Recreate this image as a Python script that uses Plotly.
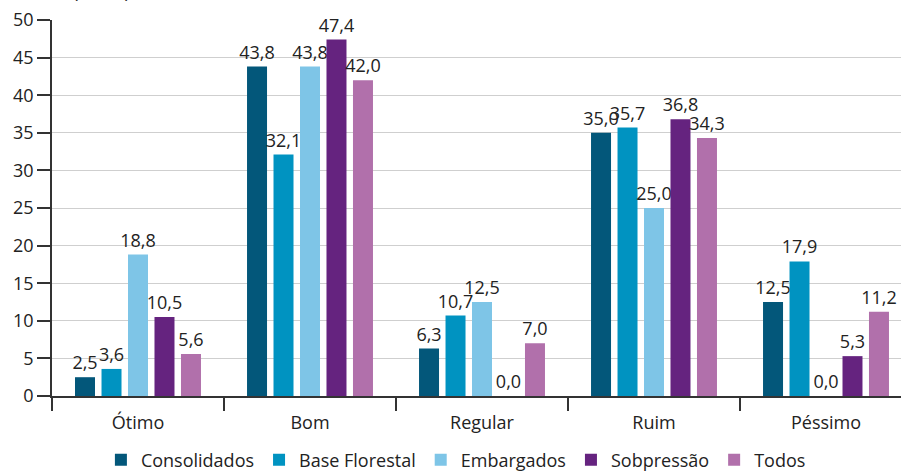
import plotly.graph_objects as go

categories = ["Ótimo", "Bom", "Regular", "Ruim", "Péssimo"]
consolidados = [2.5, 43.8, 6.3, 35.0, 12.5]
base_florestal = [3.6, 32.1, 10.7, 35.7, 17.9]
embargados = [18.8, 43.8, 12.5, 25.0, 0.0]
sobpressao = [10.5, 47.4, 0.0, 36.8, 5.3]
todos = [5.6, 42.0, 7.0, 34.3, 11.2]

series = [
    ("Consolidados", consolidados, "#03577a"),
    ("Base Florestal", base_florestal, "#0093c1"),
    ("Embargados", embargados, "#7ec5e7"),
    ("Sobpressão", sobpressao, "#65237f"),
    ("Todos", todos, "#b170ab"),
]

FONT = "Open Sans"
TXT = "#222222"


def fmt(v):
    return f"{v:.1f}".replace(".", ",")


fig = go.Figure()
for name, vals, color in series:
    fig.add_trace(go.Bar(
        name=name,
        x=categories,
        y=vals,
        marker=dict(color=color, line=dict(width=0)),
        text=[fmt(v) for v in vals],
        textposition="outside",
        textfont=dict(family=FONT, size=18, color=TXT),
        constraintext="none",
        cliponaxis=False,
    ))

fig.update_layout(
    width=901,
    height=471,
    margin=dict(l=52, r=0, t=20, b=75, autoexpand=False),
    paper_bgcolor="white",
    plot_bgcolor="white",
    barmode="group",
    bargap=0.23,
    bargroupgap=0.245,
    font=dict(family=FONT, size=18, color=TXT),
    showlegend=True,
    legend=dict(
        orientation="h",
        xref="container", yref="container",
        x=0.506, xanchor="center",
        y=0.023, yanchor="middle",
        font=dict(family=FONT, size=18, color=TXT),
        itemwidth=30,
        tracegroupgap=0,
    ),
    xaxis=dict(
        range=[-0.5, 4.436],
        showgrid=False,
        showline=True,
        linecolor="#333333",
        linewidth=1.5,
        ticks="outside",
        tickson="boundaries",
        ticklen=13,
        tickcolor="#333333",
        tickwidth=1.5,
        ticklabelstandoff=10,
        tickfont=dict(family=FONT, size=18, color=TXT),
    ),
    yaxis=dict(
        range=[0, 50],
        dtick=5,
        showgrid=True,
        gridcolor="#cfcfcf",
        gridwidth=1,
        showline=True,
        linecolor="#333333",
        linewidth=1.5,
        ticks="outside",
        ticklen=13,
        tickcolor="#333333",
        tickwidth=1.5,
        zeroline=False,
        tickfont=dict(family=FONT, size=18, color=TXT),
    ),
    annotations=[dict(
        text="(Em %)",
        xref="paper", yref="paper",
        x=0.022, y=1.04,
        xanchor="left", yanchor="bottom",
        showarrow=False,
        font=dict(family=FONT, size=18, color=TXT),
    )],
)

fig.write_html("out.html")
